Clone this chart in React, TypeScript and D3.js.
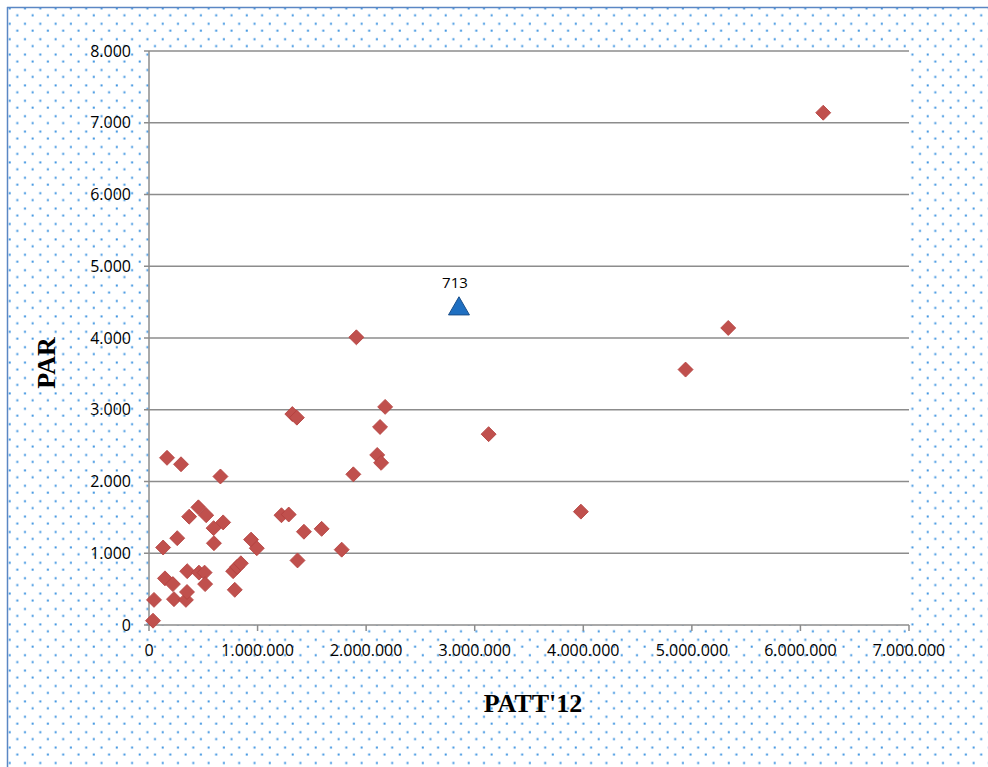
import React from "react";
import * as d3 from "d3";

const pattX: number[] = [
  37000, 46000, 130000, 166000, 147000, 220000, 230000, 260000, 295000, 340000,
  350000, 352000, 370000, 460000, 455000, 512000, 527000, 517000, 595000, 598000,
  658000, 683000, 775000, 790000, 812000, 846000, 940000, 993000, 1220000, 1287000,
  1320000, 1362000, 1368000, 1427000, 1590000, 1775000, 1882000, 1910000, 2102000, 2128000,
  2138000, 2175000, 3128000, 3978000, 4942000, 5335000, 6210000,
];
const parY: number[] = [
  60, 350, 1080, 2330, 650, 570, 360, 1210, 2240, 350,
  460, 750, 1510, 730, 1640, 730, 1530, 570, 1350, 1140,
  2070, 1430, 750, 490, 810, 860, 1190, 1070, 1530, 1540,
  2940, 2890, 900, 1300, 1340, 1050, 2100, 4010, 2370, 2760,
  2260, 3040, 2660, 1580, 3560, 4140, 7140,
];
const highlightX = [2855000];
const highlightY = [4420];
const highlightLabel = ["713"];

const xTicks = [0, 1000000, 2000000, 3000000, 4000000, 5000000, 6000000, 7000000];
const yTicks = [0, 1000, 2000, 3000, 4000, 5000, 6000, 7000, 8000];
const xTitle = "PATT'12";
const yTitle = "PAR";

const fmt = (v: number) =>
  v === 0 ? "0" : d3.format(",")(v).replace(/,/g, ".");

export default function App() {
  const W = 988;
  const H = 767;
  const left = 149, right = 909, top = 51, bottom = 625;
  const x = d3.scaleLinear().domain([0, 7000000]).range([left, right]);
  const y = d3.scaleLinear().domain([0, 8000]).range([bottom, top]);
  const diamond = d3.symbol().type(d3.symbolSquare).size(112)();
  const tri = d3.symbol().type(d3.symbolTriangle).size(190)();
  const tickFont = "'Open Sans', 'Liberation Sans', sans-serif";
  const gridColor = "#8c8c8c";

  return (
    <svg
      width={W}
      height={H}
      style={{ position: "absolute", left: 0, top: 0, background: "#fff" }}
    >
      <defs>
        <pattern id="dots" x={7} y={7} width={15.3} height={15.4} patternUnits="userSpaceOnUse">
          <rect x={9.3} y={7.3} width={2} height={2} fill="#3d93e0" />
          <rect x={1.7} y={0.4} width={2} height={2} fill="#3d93e0" />
        </pattern>
      </defs>
      <rect x={7} y={7} width={W} height={H} fill="#fff" />
      <rect x={7} y={7} width={W} height={H} fill="url(#dots)" />
      <line x1={7} y1={7.5} x2={W} y2={7.5} stroke="#5b87c4" strokeWidth={1.5} />
      <line x1={7.5} y1={7} x2={7.5} y2={H} stroke="#5b87c4" strokeWidth={1.5} />
      <rect x={left} y={top} width={right - left} height={bottom - top} fill="#fff" />
      {yTicks.map((t) => (
        <line
          key={"g" + t}
          x1={left - 5}
          x2={right}
          y1={y(t)}
          y2={y(t)}
          stroke={gridColor}
          strokeWidth={1.5}
        />
      ))}
      <line x1={left} x2={left} y1={top} y2={bottom} stroke={gridColor} strokeWidth={1.5} />
      {xTicks.map((t) => (
        <line
          key={"xt" + t}
          x1={x(t)}
          x2={x(t)}
          y1={bottom}
          y2={bottom + 6}
          stroke={gridColor}
          strokeWidth={1.5}
        />
      ))}
      {yTicks.map((t) => (
        <text
          key={"yl" + t}
          x={131}
          y={y(t)}
          dy="0.35em"
          textAnchor="end"
          fontFamily={tickFont}
          fontSize={16}
          fill="#000"
        >
          {fmt(t)}
        </text>
      ))}
      {xTicks.map((t) => (
        <text
          key={"xl" + t}
          x={x(t)}
          y={656}
          textAnchor="middle"
          fontFamily={tickFont}
          fontSize={16}
          fill="#000"
        >
          {fmt(t)}
        </text>
      ))}
      <text
        x={533}
        y={712}
        textAnchor="middle"
        fontFamily="'Liberation Serif', 'Times New Roman', serif"
        fontWeight="bold"
        fontSize={26}
      >
        {xTitle}
      </text>
      <text
        transform={`translate(55,363) rotate(-90)`}
        textAnchor="middle"
        fontFamily="'Liberation Serif', 'Times New Roman', serif"
        fontWeight="bold"
        fontSize={26}
      >
        {yTitle}
      </text>
      {pattX.map((v, i) => (
        <path
          key={"p" + i}
          d={diamond!}
          transform={`translate(${x(v)},${y(parY[i])}) rotate(45)`}
          fill="#c0504d"
          stroke="#b3413e"
          strokeWidth={0.8}
        />
      ))}
      {highlightX.map((v, i) => (
        <g key={"h" + i}>
          <path
            d={tri!}
            transform={`translate(${x(v)},${y(highlightY[i]) + 1})`}
            fill="#1f6fc1"
            stroke="#1a4f8a"
            strokeWidth={1}
          />
          <text
            x={x(v) - 4}
            y={y(highlightY[i]) - 20}
            textAnchor="middle"
            fontFamily={tickFont}
            fontSize={15}
          >
            {highlightLabel[i]}
          </text>
        </g>
      ))}
    </svg>
  );
}
